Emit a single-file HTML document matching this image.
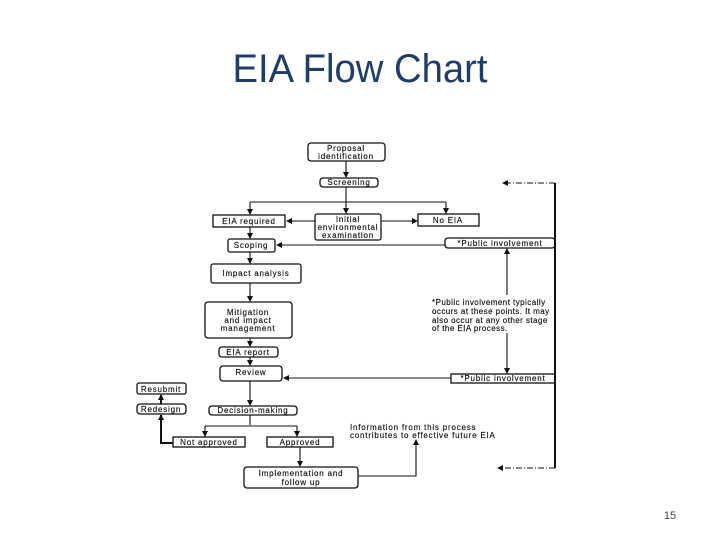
<!DOCTYPE html>
<html><head><meta charset="utf-8"><style>
html,body{margin:0;padding:0;background:#fff;width:720px;height:540px;overflow:hidden}
svg{display:block}
.t{font-family:"Liberation Sans",sans-serif;font-size:8px;fill:#111;letter-spacing:0.8px;stroke:#111;stroke-width:0.15}
.n{letter-spacing:0.45px}
</style></head><body>
<svg width="720" height="540" viewBox="0 0 720 540" xmlns="http://www.w3.org/2000/svg">
<defs><marker id="a" markerWidth="6" markerHeight="6" refX="5" refY="3" orient="auto" markerUnits="userSpaceOnUse"><path d="M0,0 L6,3 L0,6 z" fill="#111"/></marker></defs>
<text x="360" y="82" text-anchor="middle" font-family="'Liberation Sans',sans-serif" font-size="40" fill="#1f3d66" textLength="255" lengthAdjust="spacingAndGlyphs">EIA Flow Chart</text>
<text x="670" y="519" text-anchor="middle" font-family="'Liberation Sans',sans-serif" font-size="11" fill="#444">15</text>
<g fill="none" stroke="#111" stroke-width="1.3">
<rect x="308" y="143" width="77" height="18" rx="3"/>
<rect x="320" y="178" width="58" height="9" rx="3"/>
<rect x="213" y="215" width="72" height="12"/>
<rect x="315" y="214" width="66" height="26" rx="2"/>
<rect x="418" y="214" width="61" height="12"/>
<rect x="228" y="239" width="47" height="13" rx="2"/>
<rect x="445" y="238" width="110" height="10" rx="3"/>
<rect x="211" y="264" width="90" height="19" rx="2"/>
<rect x="205" y="302" width="87" height="36" rx="3"/>
<rect x="219" y="347" width="59" height="10" rx="3"/>
<rect x="220" y="366" width="62" height="15" rx="3"/>
<rect x="451" y="374" width="104" height="9"/>
<rect x="137" y="383" width="49" height="11" rx="2"/>
<rect x="137" y="404" width="49" height="10" rx="3"/>
<rect x="209" y="406" width="88" height="9" rx="3"/>
<rect x="173" y="437" width="72" height="10"/>
<rect x="267" y="437" width="66" height="10"/>
<rect x="244" y="467" width="114" height="21" rx="3"/>
</g>
<g fill="none" stroke="#111" stroke-width="1.1">
<path d="M346 161 V177" marker-end="url(#a)"/>
<path d="M346 187 V213" marker-end="url(#a)"/>
<path d="M250 202 H446"/>
<path d="M250 202 V214" marker-end="url(#a)"/>
<path d="M446 202 V213" marker-end="url(#a)"/>
<path d="M315 221 H287" marker-end="url(#a)"/>
<path d="M381 221 H417" marker-end="url(#a)"/>
<path d="M250 227 V238" marker-end="url(#a)"/>
<path d="M445 245 H277" marker-end="url(#a)"/>
<path d="M250 252 V263" marker-end="url(#a)"/>
<path d="M250 283 V301" marker-end="url(#a)"/>
<path d="M250 338 V346" marker-end="url(#a)"/>
<path d="M250 357 V365" marker-end="url(#a)"/>
<path d="M507 295 V249" marker-end="url(#a)"/>
<path d="M507 333 V373" marker-end="url(#a)"/>
<path d="M451 378 H284" marker-end="url(#a)"/>
<path d="M250 381 V405" marker-end="url(#a)"/>
<path d="M250 415 V425"/>
<path d="M205 426 H297"/>
<path d="M205 426 V436" marker-end="url(#a)"/>
<path d="M297 426 V436" marker-end="url(#a)"/>
<path d="M300 447 V466" marker-end="url(#a)"/>
<path d="M358 476 H416 V440" marker-end="url(#a)"/>
<path d="M555 183 H503" stroke-dasharray="6,2,1,2" marker-end="url(#a)"/>
<path d="M555 468 H498" stroke-dasharray="6,2,1,2" marker-end="url(#a)"/>
</g>
<g fill="none" stroke="#111" stroke-width="2">
<path d="M555 183 V468"/>
<path d="M173 443 H161 V415" marker-end="url(#a)"/>
<path d="M161 404 V395" marker-end="url(#a)"/>
</g>
<g class="t" text-anchor="middle">
<text x="346" y="151">Proposal</text>
<text x="346" y="159">identification</text>
<text x="349" y="185">Screening</text>
<text x="249" y="224">EIA required</text>
<text x="348" y="222">Initial</text>
<text x="348" y="230">environmental</text>
<text x="348" y="238">examination</text>
<text x="448" y="223">No EIA</text>
<text x="251" y="248">Scoping</text>
<text x="500" y="246">*Public involvement</text>
<text x="256" y="276">Impact analysis</text>
<text x="248" y="315">Mitigation</text>
<text x="248" y="323">and impact</text>
<text x="248" y="331">management</text>
<text x="248" y="355">EIA report</text>
<text x="251" y="375">Review</text>
<text x="503" y="381">*Public involvement</text>
<text x="161" y="392">Resubmit</text>
<text x="161" y="412">Redesign</text>
<text x="253" y="413">Decision-making</text>
<text x="209" y="445">Not approved</text>
<text x="300" y="445">Approved</text>
<text x="301" y="476">Implementation and</text>
<text x="301" y="485">follow up</text>
</g>
<g class="t n">
<text x="432" y="305">*Public involvement typically</text>
<text x="432" y="314">occurs at these points. It may</text>
<text x="432" y="323">also occur at any other stage</text>
<text x="432" y="331">of the EIA process.</text>
</g>
<g class="t">
<text x="350" y="430">Information from this process</text>
<text x="350" y="438">contributes to effective future EIA</text>
</g>
</svg>
</body></html>
